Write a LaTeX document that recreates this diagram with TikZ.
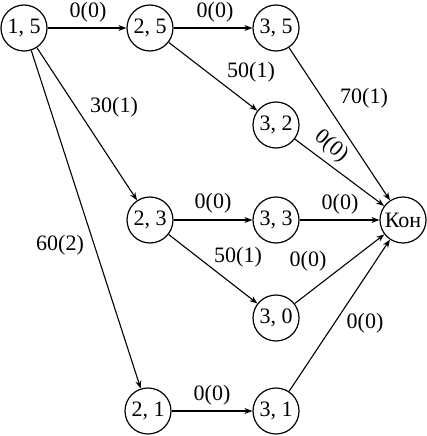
\documentclass[tikz,border=0pt]{standalone}
\usepackage{fontspec}
\setmainfont{Liberation Serif}
\usetikzlibrary{arrows.meta}
\begin{document}
\begin{tikzpicture}[x=1pt,y=-1pt,
  st/.style={circle,draw,line width=1.2pt,minimum size=46pt,inner sep=0pt,font=\fontsize{22}{22}\selectfont},
  lbl/.style={inner sep=0pt,font=\fontsize{22}{22}\selectfont},
  arr/.style={line width=1.1pt,-{Stealth[length=8pt,width=6pt]}}]
\useasboundingbox (0,0) rectangle (427,436);
\node[st] (n15) at (24,28) {1, 5};
\node[st] (n25) at (150,28) {2, 5};
\node[st] (n35) at (276,28) {3, 5};
\node[st] (n32) at (276,125) {3, 2};
\node[st] (n23) at (150,220) {2, 3};
\node[st] (n33) at (276,220) {3, 3};
\node[st] (kon) at (403,220) {Кон};
\node[st] (n30) at (276,318) {3, 0};
\node[st] (n21) at (148,411) {2, 1};
\node[st] (n31) at (276,411) {3, 1};
\draw[arr] (n15) -- (n25);
\draw[arr] (n25) -- (n35);
\draw[arr] (n25) -- (n32);
\draw[arr] (n35) -- (kon);
\draw[arr] (n32) -- (kon);
\draw[arr] (n15) -- (n23);
\draw[arr] (n15) -- (n21);
\draw[arr] (n23) -- (n33);
\draw[arr] (n33) -- (kon);
\draw[arr] (n23) -- (n30);
\draw[arr] (n30) -- (kon);
\draw[arr] (n31) -- (kon);
\draw[arr] (n21) -- (n31);
\node[lbl] (l1) at (88,12) {0(0)};
\node[lbl] (l2) at (215,12) {0(0)};
\node[lbl] (l3) at (251,72) {50(1)};
\node[lbl] (l4) at (364,98) {70(1)};
\node[lbl,rotate=-40] (l5) at (331,146) {0(0)};
\node[lbl] (l6) at (114,107) {30(1)};
\node[lbl] (l7) at (60,245) {60(2)};
\node[lbl] (l8) at (213,203) {0(0)};
\node[lbl] (l9) at (340,204) {0(0)};
\node[lbl] (l10) at (238,257) {50(1)};
\node[lbl] (l11) at (308,261) {0(0)};
\node[lbl] (l12) at (365,323) {0(0)};
\node[lbl] (l13) at (212,395) {0(0)};
\end{tikzpicture}
\end{document}
